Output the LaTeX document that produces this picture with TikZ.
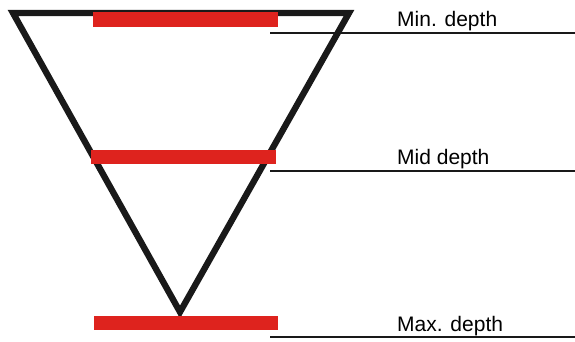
\documentclass[tikz,border=0pt]{standalone}
\usepackage{fontspec}
\setmainfont{Liberation Sans}
\begin{document}
\begin{tikzpicture}[x=1pt,y=-1pt,
  funnel/.style={line width=6.3pt,line join=miter,black!90},
  bar/.style={fill={rgb,255:red,222;green,35;blue,30},draw=none},
  rule/.style={line width=2.8pt,black!90},
  lbl/.style={anchor=base west,inner sep=0pt,font=\fontsize{21}{22}\selectfont}]
\useasboundingbox (0,0) rectangle (575,341);
\coordinate (tl) at (13,13);
\coordinate (tr) at (349,13);
\coordinate (ap) at (180,312);
\draw[funnel] (tl) -- (tr) -- (ap) -- cycle;
\path[bar] (93,12) rectangle (278,27) coordinate (b1);
\path[bar] (91,150) rectangle (276,164) coordinate (b2);
\path[bar] (94,316) rectangle (278,330) coordinate (b3);
\coordinate (r1s) at (270,33); \coordinate (r1e) at (575,33);
\coordinate (r2s) at (270,171); \coordinate (r2e) at (575,171);
\coordinate (r3s) at (270,337); \coordinate (r3e) at (575,337);
\draw[rule] (r1s) -- (r1e);
\draw[rule] (r2s) -- (r2e);
\draw[rule] (r3s) -- (r3e);
\node[lbl] (l1) at (397,26) {Min. depth};
\node[lbl] (l2) at (397,164) {Mid depth};
\node[lbl] (l3) at (397,331) {Max. depth};
\end{tikzpicture}
\end{document}
